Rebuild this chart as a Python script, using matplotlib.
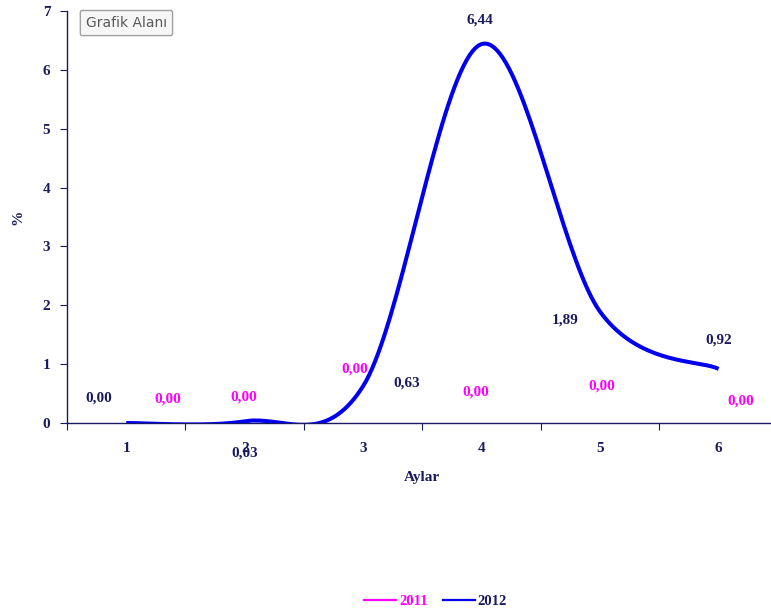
import numpy as np
from matplotlib import pyplot as plt
from matplotlib.lines import Line2D

months = [1, 2, 3, 4, 5, 6]
vals_2011 = [0.00, 0.00, 0.00, 0.00, 0.00, 0.00]
vals_2012 = [0.00, 0.03, 0.63, 6.44, 1.89, 0.92]

# label offsets in points (as placed in the original sheet)
off_2011 = [(30, 17), (-1, 19), (-6, 39), (-4, 22), (1, 27), (16, 16)]
off_2012 = [(-20, 18), (0, -23), (31, 2), (-1, 17), (-25, -6), (0, 21)]

navy = '#1a1a5e'
magenta = '#ff00ff'
blue = '#0000ee'


def smooth(x, y, n=40):
    # excel-like smoothed line (catmull-rom as cubic bezier)
    x = np.asarray(x, float)
    y = np.asarray(y, float)
    px = np.concatenate([[x[0]], x, [x[-1]]])
    py = np.concatenate([[y[0]], y, [y[-1]]])
    xs, ys = [], []
    t = np.linspace(0, 1, n)
    for i in range(1, len(px) - 2):
        p0 = np.array([px[i], py[i]])
        p3 = np.array([px[i + 1], py[i + 1]])
        c1 = p0 + (np.array([px[i + 1], py[i + 1]]) - np.array([px[i - 1], py[i - 1]])) / 6
        c2 = p3 - (np.array([px[i + 2], py[i + 2]]) - np.array([px[i], py[i]])) / 6
        b = ((1 - t) ** 3)[:, None] * p0 + (3 * (1 - t) ** 2 * t)[:, None] * c1 \
            + (3 * (1 - t) * t ** 2)[:, None] * c2 + (t ** 3)[:, None] * p3
        xs.append(b[:, 0])
        ys.append(b[:, 1])
    return np.concatenate(xs), np.concatenate(ys)


plt.rcParams['font.family'] = 'Liberation Serif'
fig = plt.figure(figsize=(7.71, 6.14), dpi=100)
ax = fig.add_axes([0.0869, 0.311, 0.922, 0.671])

sx, sy = smooth(months, vals_2012)
ax.plot(sx, sy, color=blue, lw=2.9, solid_capstyle='butt', zorder=3)

for m, v, o in zip(months, vals_2012, off_2012):
    ax.annotate(('%.2f' % v).replace('.', ','), (m, v), xytext=o, textcoords='offset points',
                ha='center', va='center', fontsize=11, fontweight='bold', color=navy)
for m, v, o in zip(months, vals_2011, off_2011):
    ax.annotate(('%.2f' % v).replace('.', ','), (m, v), xytext=o, textcoords='offset points',
                ha='center', va='center', fontsize=11, fontweight='bold', color=magenta)

ax.set_xlim(0.5, 6.5)
ax.set_ylim(0, 7)
ax.set_xticks(np.arange(0.5, 7, 1))
ax.set_xticklabels([])
ax.set_xticks(months, minor=True)
ax.set_xticklabels([str(m) for m in months], minor=True)
ax.tick_params(axis='x', which='minor', length=0, pad=14)
ax.tick_params(axis='x', which='major', length=5, color=navy, direction='out')
ax.set_yticks(range(8))
ax.tick_params(axis='y', length=5, color=navy, direction='out', pad=7)
for lab in ax.get_xticklabels(minor=True) + ax.get_yticklabels():
    lab.set_fontweight('bold')
    lab.set_fontsize(11)
    lab.set_color(navy)

for s in ['top', 'right']:
    ax.spines[s].set_visible(False)
for s in ['left', 'bottom']:
    ax.spines[s].set_color(navy)
    ax.spines[s].set_linewidth(1.0)

ax.set_xlabel('Aylar', fontsize=11, fontweight='bold', color=navy, labelpad=11)
ax.set_ylabel('%', fontsize=11, fontweight='bold', color=navy, labelpad=13)

fig.text(0.164, 0.9625, 'Grafik Alanı', family='DejaVu Sans', fontsize=10, color='#5a5a5a',
         ha='center', va='center',
         bbox=dict(boxstyle='round,pad=0.4,rounding_size=0.15', fc='#f6f6f6', ec='#a0a0a0', lw=1))

handles = [Line2D([], [], color=magenta, lw=1.6), Line2D([], [], color=blue, lw=1.6)]
leg = fig.legend(handles, ['2011', '2012'], loc='center', bbox_to_anchor=(0.565, 0.02),
                 ncol=2, frameon=False, handlelength=2.2, handletextpad=0.2, columnspacing=1.0,
                 prop={'weight': 'bold', 'size': 10.5})
for t, c in zip(leg.get_texts(), [magenta, navy]):
    t.set_color(c)

fig.savefig('out.png', dpi=100)
